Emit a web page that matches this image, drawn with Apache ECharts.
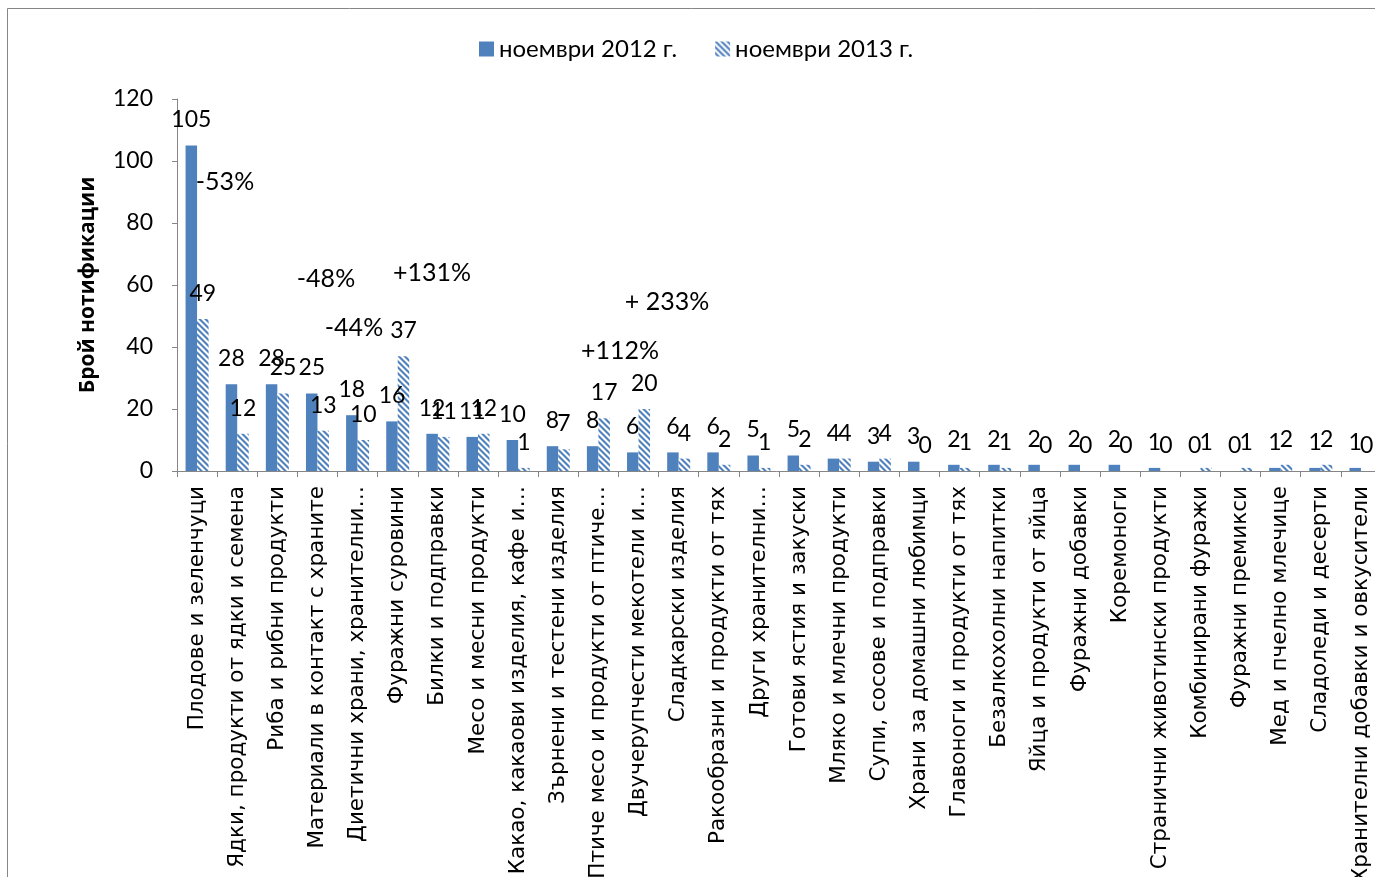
<!DOCTYPE html>
<html>
<head>
<meta charset="utf-8">
<script src="https://cdn.jsdelivr.net/npm/echarts@6/dist/echarts.min.js"></script>
<style>
html,body{margin:0;padding:0;background:#fff;}
#chart{width:1375px;height:877px;}
</style>
</head>
<body>
<div id="chart"></div>
<script>
// ---- data ----
const categories = [
  'Плодове и зеленчуци',
  'Ядки, продукти от ядки и семена',
  'Риба и рибни продукти',
  'Материали в контакт с храните',
  'Диетични храни, хранителни…',
  'Фуражни суровини',
  'Билки и подправки',
  'Месо и месни продукти',
  'Какао, какаови изделия, кафе и…',
  'Зърнени и тестени изделия',
  'Птиче месо и продукти от птиче…',
  'Двучерупчести мекотели и…',
  'Сладкарски изделия',
  'Ракообразни и продукти от тях',
  'Други хранителни…',
  'Готови ястия и закуски',
  'Мляко и млечни продукти',
  'Супи, сосове и подправки',
  'Храни за домашни любимци',
  'Главоноги и продукти от тях',
  'Безалкохолни напитки',
  'Яйца и продукти от яйца',
  'Фуражни добавки',
  'Коремоноги',
  'Странични животински продукти',
  'Комбинирани фуражи',
  'Фуражни премикси',
  'Мед и пчелно млечице',
  'Сладоледи и десерти',
  'Хранителни добавки и овкусители'
];
const seriesNames = ['ноември 2012 г.', 'ноември 2013 г.'];
const nov2012 = [105, 28, 28, 25, 18, 16, 12, 11, 10, 8, 8, 6, 6, 6, 5, 5, 4, 3, 3, 2, 2, 2, 2, 2, 1, 0, 0, 1, 1, 1];
const nov2013 = [49, 12, 25, 13, 10, 37, 11, 12, 1, 7, 17, 20, 4, 2, 1, 2, 4, 4, 0, 1, 1, 0, 0, 0, 0, 1, 1, 2, 2, 0];
const yTicks = {min: 0, max: 120, interval: 20};
const axisTitle = 'Брой нотификации';
const changeTexts = ['-53%', '-48%', '+131%', '-44%', '+112%', '+ 233%'];

// ---- styling ----
const BLUE = '#4F81BD';
const LIGHT = '#A9C1DF';
function hatch() {
  const n = 6;
  const c = document.createElement('canvas');
  c.width = n; c.height = n;
  const ctx = c.getContext('2d');
  for (let x = 0; x < n; x++) {
    for (let y = 0; y < n; y++) {
      const d = (((x - y) % n) + n) % n;
      ctx.fillStyle = (d === 0 || d === 1) ? BLUE : (d === 2 || d === 5) ? LIGHT : '#FFFFFF';
      ctx.fillRect(x, y, 1, 1);
    }
  }
  return {image: c, repeat: 'repeat'};
}
const hatchFill = hatch();

const labelFont = 'Lato, "Open Sans", sans-serif';
const annoPos = [[225, 182], [326, 279], [432, 273], [354, 328], [620, 351], [667, 302]];

const chart = echarts.init(document.getElementById('chart'), null, {renderer: 'canvas'});
const option = {
  animation: false,
  backgroundColor: '#fff',
  textStyle: {fontFamily: labelFont, color: '#000'},
  legend: {
    left: 474, top: 32,
    itemWidth: 15, itemHeight: 15, itemGap: 38,
    icon: 'rect',
    textStyle: {fontSize: 24, color: '#000', fontFamily: labelFont},
    data: seriesNames
  },
  grid: {left: 177, top: 99, width: 1204, height: 372, containLabel: false, outerBoundsMode: 'none'},
  xAxis: {
    type: 'category',
    data: categories,
    axisLine: {lineStyle: {color: '#868686', width: 1}},
    axisTick: {show: true, length: 6, alignWithLabel: false, interval: 0, lineStyle: {color: '#868686'}},
    axisLabel: {interval: 0, rotate: 90, margin: 15, fontSize: 21.5, color: '#000', fontFamily: '"DejaVu Sans", sans-serif'},
    splitLine: {show: false}
  },
  yAxis: {
    type: 'value',
    min: yTicks.min, max: yTicks.max, interval: yTicks.interval,
    name: axisTitle,
    nameLocation: 'middle',
    nameRotate: 90,
    nameGap: 78,
    nameTextStyle: {fontSize: 21, fontWeight: 'bold', color: '#000', fontFamily: '"Open Sans", sans-serif'},
    axisLine: {show: true, lineStyle: {color: '#868686', width: 1}},
    axisTick: {show: true, length: 5, lineStyle: {color: '#868686'}},
    axisLabel: {fontSize: 23, color: '#000', margin: 24, fontFamily: labelFont},
    splitLine: {show: false}
  },
  series: [
    {
      name: seriesNames[0],
      type: 'bar',
      data: nov2012,
      barWidth: 11.5,
      barGap: '0%',
      itemStyle: {color: BLUE},
      label: {show: true, position: 'top', distance: 14, fontSize: 23, color: '#000', fontFamily: labelFont}
    },
    {
      name: seriesNames[1],
      type: 'bar',
      data: nov2013,
      barWidth: 11.5,
      barGap: '0%',
      itemStyle: {color: hatchFill},
      label: {show: true, position: 'top', distance: 14, fontSize: 23, color: '#000', fontFamily: labelFont}
    }
  ],
  graphic: [
    {type: 'rect', shape: {x: 7.5, y: 8.5, width: 1400, height: 900}, style: {fill: null, stroke: '#868686', lineWidth: 1}, silent: true, z: -1}
  ].concat(changeTexts.map((t, i) => ({
    type: 'text', x: annoPos[i][0], y: annoPos[i][1],
    style: {text: t, fontSize: 25, fontFamily: labelFont, fill: '#000', textAlign: 'center', textVerticalAlign: 'middle'}
  })))
};
chart.setOption(option);
</script>
</body>
</html>
